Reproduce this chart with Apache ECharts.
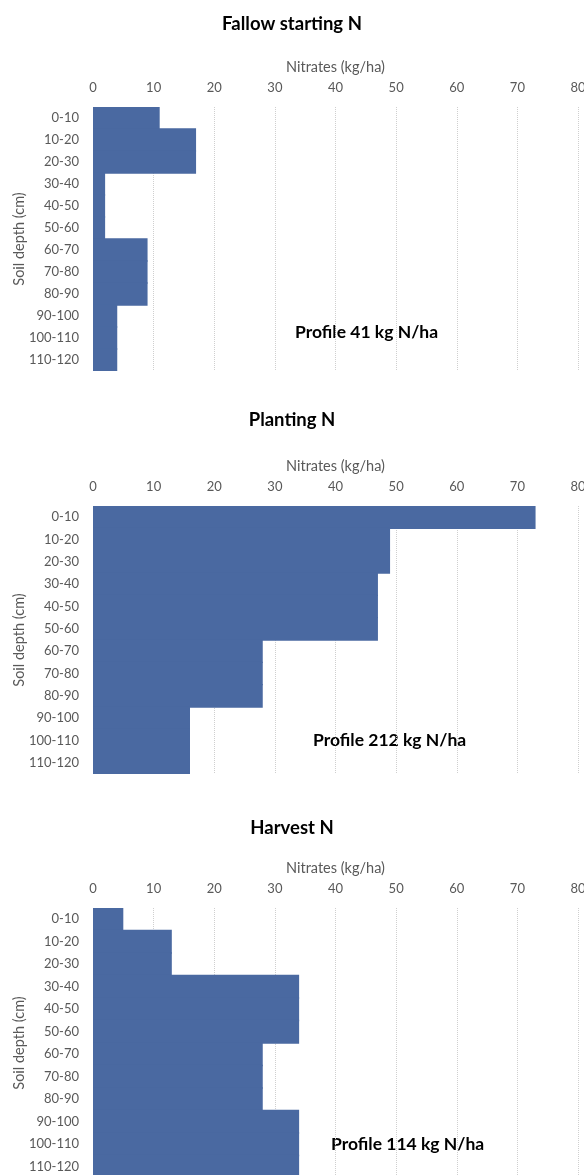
<!DOCTYPE html>
<html>
<head>
<meta charset="utf-8">
<script src="https://cdn.jsdelivr.net/npm/echarts@6/dist/echarts.min.js"></script>
<style>
html,body{margin:0;padding:0;background:#fff;}
#c{width:584px;height:1175px;}
</style>
</head>
<body>
<div id="c"></div>
<script>
const depths = ['0-10','10-20','20-30','30-40','40-50','50-60','60-70','70-80','80-90','90-100','100-110','110-120'];
const fallowN = [11,17,17,2,2,2,9,9,9,4,4,4];
const plantingN = [73,49,49,47,47,47,28,28,28,16,16,16];
const harvestN = [5,13,13,34,34,34,28,28,28,34,34,34];
const chartTitles = ['Fallow starting N','Planting N','Harvest N'];
const profileLabels = ['Profile 41 kg N/ha','Profile 212 kg N/ha','Profile 114 kg N/ha'];
const xTicks = {min:0, max:80, interval:10};
const xName = 'Nitrates (kg/ha)';
const yName = 'Soil depth (cm)';

const FONT = 'Lato, "Liberation Sans", sans-serif';
const BAR = '#4a69a1';
const GREY = '#595959';

const layout = [
  {top:107, height:264, titleTop:15, annX:295, annY:333},
  {top:506, height:268, titleTop:411, annX:313, annY:741},
  {top:908, height:270, titleTop:819, annX:331, annY:1145}
];
const seriesData = [fallowN, plantingN, harvestN];

const option = {
  animation:false,
  backgroundColor:'#fff',
  title: layout.map((l,i)=>({
    text: chartTitles[i], left:'center', top:l.titleTop, padding:0,
    textStyle:{fontFamily:FONT, fontSize:18.5, fontWeight:'bold', color:'#000'}
  })),
  graphic: layout.map((l,i)=>({
    type:'text', left:l.annX, top:l.annY-10,
    style:{text:profileLabels[i], fontFamily:FONT, fontSize:17.5, fontWeight:'bold', fill:'#000'}
  })),
  grid: layout.map(l=>({left:93, right:6, top:l.top, height:l.height, containLabel:false, outerBoundsMode:'none'})),
  xAxis: layout.map((l,i)=>({
    type:'value', gridIndex:i, position:'top', min:xTicks.min, max:xTicks.max, interval:xTicks.interval,
    name:xName, nameLocation:'middle', nameGap:32, nameMoveOverlap:false,
    nameTextStyle:{fontFamily:FONT, fontSize:14.5, color:GREY},
    axisLine:{show:false}, axisTick:{show:false},
    axisLabel:{fontFamily:FONT, fontSize:13, color:GREY, margin:13},
    splitLine:{show:true, lineStyle:{type:'dotted', color:'#cfcfcf', width:1}}
  })),
  yAxis: layout.map((l,i)=>({
    type:'category', gridIndex:i, data:depths, inverse:true,
    name:yName, nameLocation:'middle', nameGap:66, nameRotate:90, nameMoveOverlap:false,
    nameTextStyle:{fontFamily:FONT, fontSize:14.5, color:GREY},
    axisLine:{show:false}, axisTick:{show:false},
    axisLabel:{fontFamily:FONT, fontSize:13, color:GREY, margin:14},
    splitLine:{show:false}
  })),
  series: seriesData.map((d,i)=>({
    type:'bar', xAxisIndex:i, yAxisIndex:i, data:d, barWidth:'106%',
    itemStyle:{color:BAR}
  }))
};
const chart = echarts.init(document.getElementById('c'), null, {renderer:'canvas'});
chart.setOption(option);
</script>
</body>
</html>
